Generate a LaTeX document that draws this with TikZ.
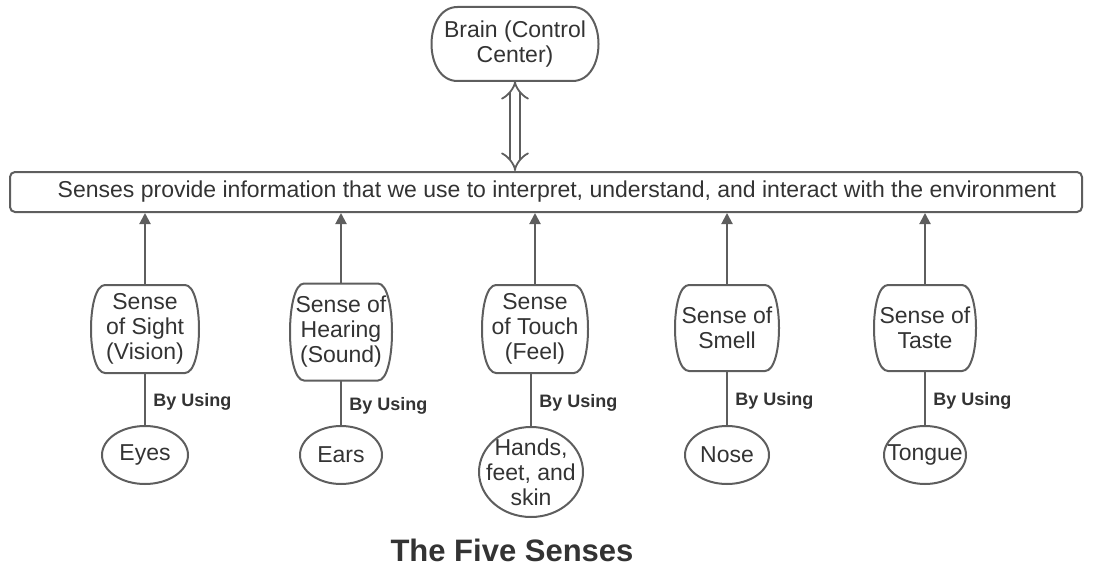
\documentclass[tikz,border=0pt]{standalone}
\usepackage{fontspec}
\setmainfont{Liberation Sans}
\usetikzlibrary{shapes.geometric,arrows.meta}
\definecolor{linegray}{HTML}{5E5E5E}
\definecolor{textgray}{HTML}{333333}
% outline of a box with bulging sides round node #1, corner inset #2
\newcommand{\barrel}[2]{\draw[draw=linegray] ([xshift=#2]#1.north west) -- ([xshift=-#2]#1.north east)
  .. controls ([xshift=#2/3]#1.north east) and ([xshift=#2/3]#1.south east) .. ([xshift=-#2]#1.south east)
  -- ([xshift=#2]#1.south west)
  .. controls ([xshift=-#2/3]#1.south west) and ([xshift=-#2/3]#1.north west) .. cycle;}

\begin{document}
\begin{tikzpicture}[x=1pt,y=-1pt,line width=2pt,draw=linegray,text=textgray,
  sense/.style={shape=rectangle,align=center,font=\fontsize{23}{25}\selectfont,minimum width=106pt,minimum height=86pt,inner sep=0pt},
  organ/.style={shape=ellipse,draw=linegray,align=center,font=\fontsize{23}{25}\selectfont,minimum width=86pt,minimum height=58pt,inner sep=-14pt},
  using/.style={anchor=west,font=\bfseries\fontsize{18}{20}\selectfont,xshift=4pt,yshift=-3pt},
  uparrow/.style={draw=linegray,-{Triangle[length=11pt,width=11pt]}},
  twoway/.style={draw=linegray,line width=1.8pt,double=white,double distance=8pt,{Implies[length=7pt]}-{Implies[length=7pt]}}]
\def\yb{329};
\def\yo{455};
\useasboundingbox (0,0) rectangle (1094,567);

\node[sense,minimum width=165pt,minimum height=72pt] (Brain) at (515,44) {Brain (Control\\Center)};
\barrel{Brain}{26pt}

\node[draw=linegray,rounded corners=5pt,minimum width=1072pt,minimum height=40pt,inner sep=0pt,font=\fontsize{23}{25}\selectfont] (Bar) at (546,192) {\hspace*{22pt}Senses provide information that we use to interpret, understand, and interact with the environment};
\draw[twoway] (Brain.south) -- (Brain.south |- Bar.north);

\node[sense] (Sight) at (145,\yb) {Sense\\of Sight\\(Vision)};
\node[sense,minimum width=100pt,minimum height=95pt] (Hearing) at (341,332) {Sense of\\Hearing\\(Sound)};
\node[sense,minimum width=104pt] (Touch) at (535,329) {Sense\\of Touch\\(Feel)};
\node[sense,minimum width=102pt,minimum height=84pt] (Smell) at (727,328) {Sense of\\Smell};
\node[sense,minimum width=100pt,minimum height=84pt] (Taste) at (925,328) {Sense of\\Taste};

\foreach \s in {Sight,Hearing,Touch,Smell,Taste}{
  \barrel{\s}{14pt}
  \draw[uparrow] (\s.north) -- (\s.north |- Bar.south);
}

\node[organ] (Eyes) at (145,\yo) {Eyes};
\node[organ,minimum width=82pt] (Ears) at (341,\yo) {Ears};
\node[organ,minimum width=104pt,minimum height=90pt,inner sep=-22pt] (Hands) at (531,472) {Hands,\\feet, and\\skin};
\node[organ,minimum width=84pt] (Nose) at (727,\yo) {Nose};
\node[organ,minimum width=82pt] (Tongue) at (925,\yo) {Tongue};

\draw (Sight.south) -- node[using] {By Using} (Eyes.north);
\draw (Hearing.south) -- node[using] {By Using} (Ears.north);
\draw (Touch.south -| Hands.north) -- node[using] {By Using} (Hands.north);
\draw (Smell.south) -- node[using] {By Using} (Nose.north);
\draw (Taste.south) -- node[using] {By Using} (Tongue.north);

\node[font=\bfseries\fontsize{31}{34}\selectfont] (Title) at (512,550) {The Five Senses};
\end{tikzpicture}
\end{document}
